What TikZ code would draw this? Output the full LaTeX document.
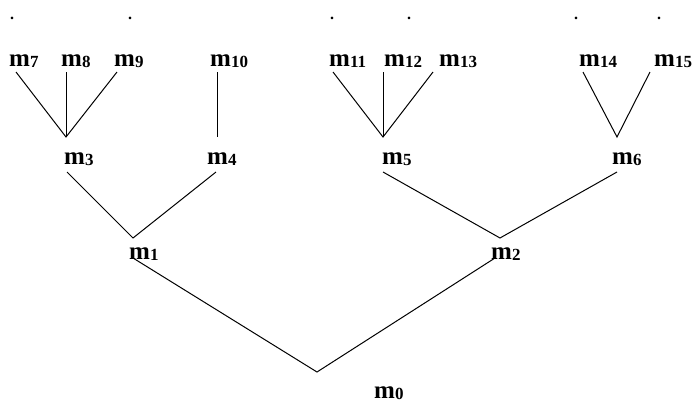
\documentclass[tikz,border=0pt]{standalone}
\usepackage{fontspec}
\setmainfont{Liberation Serif}
\newcommand{\mlab}[1]{\fontsize{25}{25}\selectfont\bfseries m\raisebox{-1pt}{\fontsize{17}{17}\selectfont #1}}
\begin{document}
\begin{tikzpicture}[x=1pt,y=-1pt,
  lab/.style={anchor=base west,inner sep=0pt},
  dotl/.style={anchor=base,inner sep=0pt,font=\fontsize{16}{16}\selectfont\bfseries},
  edge/.style={line width=1pt,black}]
\useasboundingbox (0,0) rectangle (699,405);
% dots
\foreach \x [count=\i] in {12,130,332,409,576,659}
  \node[dotl] (d\i) at (\x,19) {.};
% labels
\node[lab] (m7)  at (9,66)  {\mlab{7}};
\node[lab] (m8)  at (61,66)  {\mlab{8}};
\node[lab] (m9)  at (114,66) {\mlab{9}};
\node[lab] (m10) at (210,66) {\mlab{10}};
\node[lab] (m11) at (329,66) {\mlab{11}};
\node[lab] (m12) at (384,66) {\mlab{12}};
\node[lab] (m13) at (439,66) {\mlab{13}};
\node[lab] (m14) at (579,66) {\mlab{14}};
\node[lab] (m15) at (654,66) {\mlab{15}};
\node[lab] (m3) at (64,164)  {\mlab{3}};
\node[lab] (m4) at (207,164) {\mlab{4}};
\node[lab] (m5) at (382,164) {\mlab{5}};
\node[lab] (m6) at (612,164) {\mlab{6}};
\node[lab] (m1) at (129,259) {\mlab{1}};
\node[lab] (m2) at (491,259) {\mlab{2}};
\node[lab] (m0) at (374,398) {\mlab{0}};
% line end points
\coordinate (t7) at (16,72);
\coordinate (t8) at (66,72);
\coordinate (t9) at (117,72);
\coordinate (t10) at (217,72);
\coordinate (t11) at (333,72);
\coordinate (t12) at (383,72);
\coordinate (t13) at (433,72);
\coordinate (t14) at (583,72);
\coordinate (t15) at (650,72);
\coordinate (a3) at (66,137);
\coordinate (a4) at (217,137);
\coordinate (a5) at (383,137);
\coordinate (a6) at (617,137);
\coordinate (b3) at (67,172);
\coordinate (b4) at (216,172);
\coordinate (b5) at (383,172);
\coordinate (b6) at (617,172);
\coordinate (a1) at (133,238);
\coordinate (a2) at (500,238);
\coordinate (b1) at (133,258);
\coordinate (b2) at (495,258);
\coordinate (a0) at (317,372);
% connectors
\draw[edge] (t7) -- (a3) -- (t9);
\draw[edge] (t8) -- (a3);
\draw[edge] (t10) -- (a4);
\draw[edge] (t11) -- (a5) -- (t13);
\draw[edge] (t12) -- (a5);
\draw[edge] (t14) -- (a6) -- (t15);
\draw[edge] (b3) -- (a1) -- (b4);
\draw[edge] (b5) -- (a2) -- (b6);
\draw[edge] (b1) -- (a0) -- (b2);
\end{tikzpicture}
\end{document}
